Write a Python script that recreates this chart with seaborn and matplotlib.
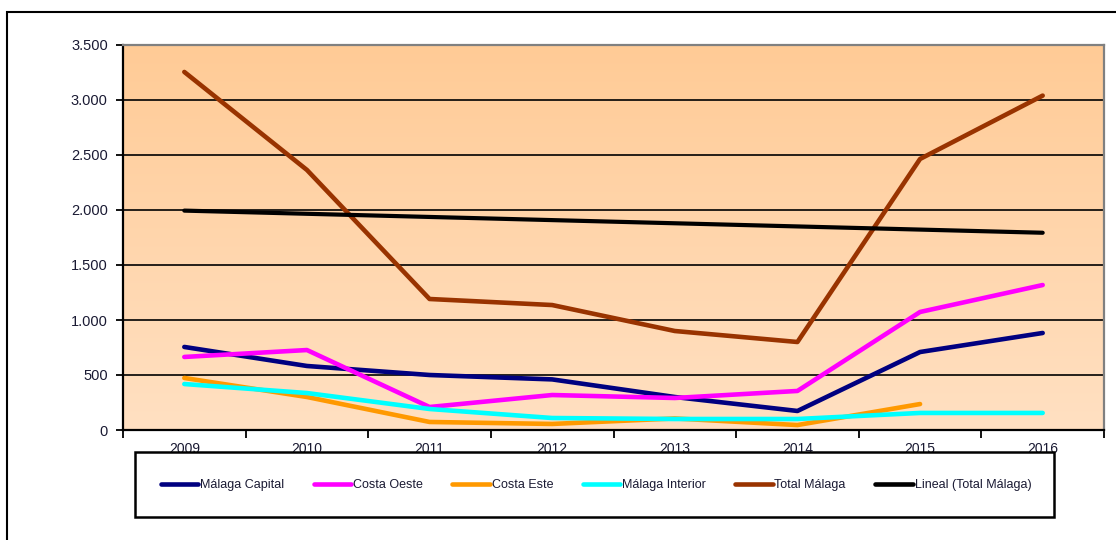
import numpy as np
import pandas as pd
import matplotlib
matplotlib.use("Agg")
import matplotlib.pyplot as plt
from matplotlib.lines import Line2D
from matplotlib.patches import Rectangle
from matplotlib.colors import LinearSegmentedColormap
import seaborn as sns

# Data
years = [2009, 2010, 2011, 2012, 2013, 2014, 2015, 2016]
malaga_capital = [755, 582, 500, 460, 300, 173, 709, 882]
costa_oeste = [664, 727, 209, 318, 291, 355, 1073, 1318]
costa_este = [473, 300, 73, 55, 105, 45, 236, np.nan]
malaga_interior = [418, 336, 191, 109, 100, 100, 155, 155]
total_malaga = [3255, 2364, 1191, 1136, 900, 800, 2464, 3040]

series_names = ["Málaga Capital", "Costa Oeste", "Costa Este",
                "Málaga Interior", "Total Málaga"]
trend_name = "Lineal (Total Málaga)"
colors = {"Málaga Capital": "#000080", "Costa Oeste": "#FF00FF",
          "Costa Este": "#FF9900", "Málaga Interior": "#00FFFF",
          "Total Málaga": "#993300", trend_name: "#000000"}
yticks = [0, 500, 1000, 1500, 2000, 2500, 3000, 3500]

df = pd.DataFrame({
    "year": years * 5,
    "value": malaga_capital + costa_oeste + costa_este + malaga_interior + total_malaga,
    "serie": sum([[n] * len(years) for n in series_names], []),
}).dropna()

# Linear trend of the total
coef = np.polyfit(years, total_malaga, 1)
trend = pd.DataFrame({"year": years, "value": np.polyval(coef, years)})

sns.set_style("white")
plt.rcParams["font.family"] = ["Liberation Sans", "DejaVu Sans"]

fig = plt.figure(figsize=(11.16, 5.4), dpi=100)
ax = fig.add_axes([123 / 1116, 1 - 430 / 540, (1104 - 123) / 1116, (430 - 45) / 540])

# Peach gradient background
cmap = LinearSegmentedColormap.from_list("peach", ["#FFE0C2", "#FFCB96"])
grad = np.linspace(0, 1, 256).reshape(-1, 1)
ax.imshow(grad, cmap=cmap, aspect="auto", extent=[0, 1, 0, 1],
          transform=ax.transAxes, origin="lower", zorder=0)

sns.lineplot(data=df, x="year", y="value", hue="serie", hue_order=series_names,
             palette=colors, linewidth=3.3, legend=False, ax=ax, sort=False,
             solid_capstyle="round", zorder=3)
sns.lineplot(data=trend, x="year", y="value", color=colors[trend_name],
             linewidth=3.0, ax=ax, solid_capstyle="round", zorder=3)

ax.set_xlim(2008.5, 2016.5)
ax.set_ylim(0, 3500)
ax.set_xlabel("")
ax.set_ylabel("")

# Gridlines
for v in yticks[1:]:
    ax.axhline(v, color="black", linewidth=1.2, zorder=1)

# Axes styling
for side in ["left", "bottom"]:
    ax.spines[side].set_color("black")
    ax.spines[side].set_linewidth(1.6)
for side in ["top", "right"]:
    ax.spines[side].set_color("#808080")
    ax.spines[side].set_linewidth(1.6)

tick_color = "#1a1a33"
ax.set_yticks(yticks)
ax.set_yticklabels([f"{v:,}".replace(",", ".") for v in yticks])
ax.tick_params(axis="y", which="major", direction="out", length=5, width=1.3,
               color="black", left=True, pad=6, labelsize=10.5, labelcolor=tick_color)

ax.set_xticks([y + 0.5 for y in [2008] + years])
ax.set_xticklabels([])
ax.set_xticks(years, minor=True)
ax.set_xticklabels([str(y) for y in years], minor=True)
ax.tick_params(axis="x", which="major", direction="out", length=6, width=1.3,
               color="black", bottom=True)
ax.tick_params(axis="x", which="minor", length=0, pad=8.3, labelsize=10,
               labelcolor=tick_color)

# Legend box
box = Rectangle((135 / 1116, 1 - 517 / 540), (1054 - 135) / 1116, (517 - 452) / 540,
                transform=fig.transFigure, facecolor="white", edgecolor="black",
                linewidth=1.8, zorder=5)
fig.patches.append(box)

handles = [Line2D([], [], color=colors[n], linewidth=3.3) for n in series_names]
handles.append(Line2D([], [], color=colors[trend_name], linewidth=3.3))
labels = series_names + [trend_name]
leg = fig.legend(handles, labels, loc="center", bbox_to_anchor=(596 / 1116, 1 - 485 / 540),
                 ncol=6, frameon=False, fontsize=9, handlelength=3.0,
                 handletextpad=0.15, columnspacing=2.35)
leg.set_zorder(6)
for t in leg.get_texts():
    t.set_color(tick_color)

# Outer chart frame
frame = Rectangle((7 / 1116, -0.1), 1.2, 1 - 12 / 540 + 0.1, transform=fig.transFigure,
                  facecolor="none", edgecolor="black", linewidth=1.5, zorder=7)
fig.patches.append(frame)

fig.savefig("out.png", dpi=100)
